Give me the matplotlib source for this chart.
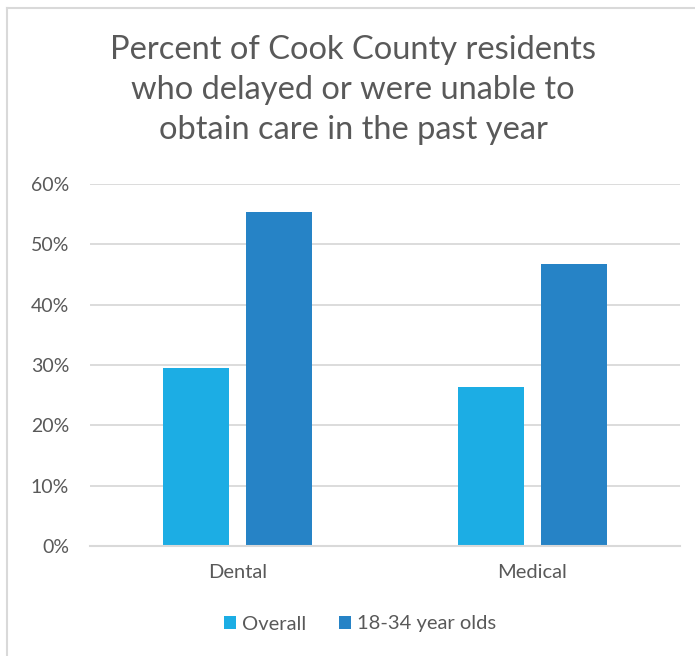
import numpy as np
import matplotlib.pyplot as plt
from matplotlib.lines import Line2D
from matplotlib.ticker import PercentFormatter

categories = ["Dental", "Medical"]
overall = [29.5, 26.4]
young_adults = [55.4, 46.7]
series_names = ["Overall", "18-34 year olds"]
y_ticks = [0, 10, 20, 30, 40, 50, 60]

light_blue = "#1CADE4"
dark_blue = "#2683C6"
text_grey = "#595959"
grid_grey = "#D9D9D9"

plt.rcParams['font.family'] = ['Lato', 'DejaVu Sans']

fig = plt.figure(figsize=(6.95, 6.56), dpi=100)

# light chart border, only top and left edges fall inside the canvas
fig.add_artist(Line2D([6.5 / 695, 6.5 / 695], [0, 1 - 7.5 / 656],
                      transform=fig.transFigure, color=grid_grey, lw=1.5))
fig.add_artist(Line2D([6.5 / 695, 1], [1 - 7.5 / 656, 1 - 7.5 / 656],
                      transform=fig.transFigure, color=grid_grey, lw=1.5))

ax = fig.add_axes([90 / 695, 110 / 656, 590 / 695, 362 / 656])

x = np.arange(len(categories))
width = 0.224
offset = 0.142
ax.bar(x - offset, overall, width, color=light_blue, label=series_names[0], zorder=3)
ax.bar(x + offset, young_adults, width, color=dark_blue, label=series_names[1], zorder=3)

ax.set_xlim(-0.5, 1.5)
ax.set_ylim(0, 60)
ax.set_yticks(y_ticks)
ax.yaxis.set_major_formatter(PercentFormatter(decimals=0))
ax.set_xticks(x)
ax.set_xticklabels(categories)

ax.grid(axis='y', color=grid_grey, lw=1.3, zorder=0)
for side in ['top', 'right', 'left']:
    ax.spines[side].set_visible(False)
ax.spines['bottom'].set_color(grid_grey)
ax.spines['bottom'].set_linewidth(1.5)
ax.spines['bottom'].set_zorder(4)

ax.tick_params(axis='y', length=0, pad=15, labelsize=14, labelcolor=text_grey)
ax.tick_params(axis='x', length=0, pad=13, labelsize=14.5, labelcolor=text_grey)

fig.text(0.508, 1 - 90 / 656,
         "Percent of Cook County residents\nwho delayed or were unable to\nobtain care in the past year",
         ha='center', va='center', fontsize=23.5, color=text_grey, linespacing=1.4)

fig.legend(loc='center', bbox_to_anchor=(0.518, 1 - 624 / 656), ncol=2,
           frameon=False, fontsize=14.5, labelcolor=text_grey,
           handlelength=0.6, handleheight=0.6, handletextpad=0.3,
           columnspacing=1.6)

fig.savefig("out.png", dpi=100, facecolor='white')
